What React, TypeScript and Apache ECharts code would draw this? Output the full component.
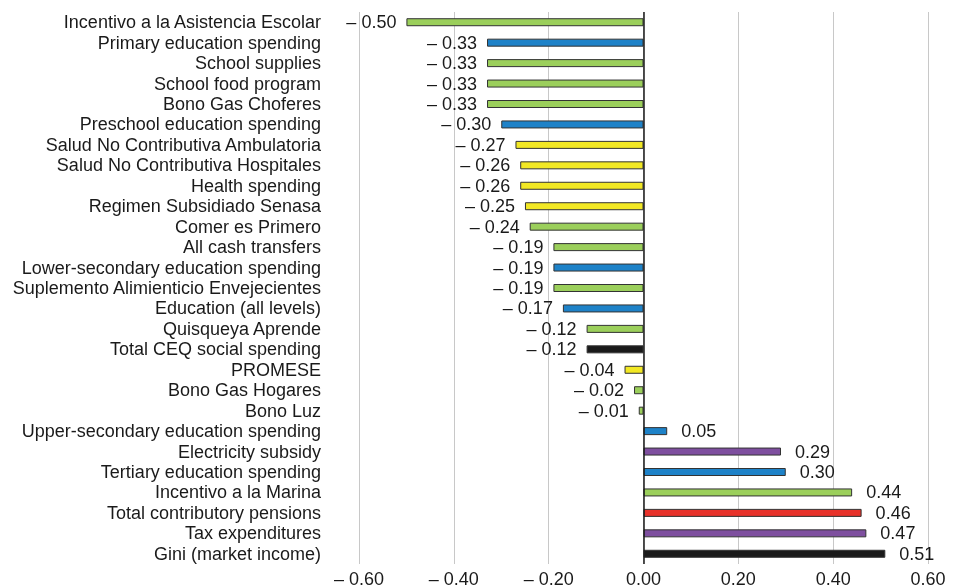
import React, { useEffect, useRef } from "react";
import * as echarts from "echarts";

const categories = [
  "Incentivo a la Asistencia Escolar",
  "Primary education spending",
  "School supplies",
  "School food program",
  "Bono Gas Choferes",
  "Preschool education spending",
  "Salud No Contributiva Ambulatoria",
  "Salud No Contributiva Hospitales",
  "Health spending",
  "Regimen Subsidiado Senasa",
  "Comer es Primero",
  "All cash transfers",
  "Lower-secondary education spending",
  "Suplemento Alimienticio Envejecientes",
  "Education (all levels)",
  "Quisqueya Aprende",
  "Total CEQ social spending",
  "PROMESE",
  "Bono Gas Hogares",
  "Bono Luz",
  "Upper-secondary education spending",
  "Electricity subsidy",
  "Tertiary education spending",
  "Incentivo a la Marina",
  "Total contributory pensions",
  "Tax expenditures",
  "Gini (market income)",
];

const values = [
  -0.5, -0.33, -0.33, -0.33, -0.33, -0.3, -0.27, -0.26, -0.26, -0.25, -0.24,
  -0.19, -0.19, -0.19, -0.17, -0.12, -0.12, -0.04, -0.02, -0.01, 0.05, 0.29,
  0.3, 0.44, 0.46, 0.47, 0.51,
];

// group of each bar: g = green, b = education, y = health, k = totals, p = subsidies, r = pensions
const groups = [
  "g", "b", "g", "g", "g", "b", "y", "y", "y", "y", "g", "g", "b", "g", "b",
  "g", "k", "y", "g", "g", "b", "p", "b", "g", "r", "p", "k",
];

const groupColors: Record<string, string> = {
  g: "#9BCF5B",
  b: "#1E82C8",
  y: "#F2E824",
  k: "#1A1A1A",
  p: "#7E4F9F",
  r: "#E8322A",
};

const fmt = (v: number) => (v < 0 ? "\u2013 " + Math.abs(v).toFixed(2) : v.toFixed(2));

export default function App() {
  const ref = useRef<HTMLDivElement>(null);
  useEffect(() => {
    if (!ref.current) return;
    const chart = echarts.init(ref.current, undefined, { renderer: "svg" });
    const font = "'Liberation Sans', Arial, Helvetica, sans-serif";
    chart.setOption({
      animation: false,
      grid: { left: 359, right: 26, top: 12, bottom: 24, containLabel: false },
      xAxis: {
        type: "value",
        min: -0.6,
        max: 0.6,
        interval: 0.2,
        axisLine: { show: false },
        axisTick: { show: false },
        splitLine: { show: true, lineStyle: { color: "#c8c8c8", width: 1 } },
        axisLabel: {
          formatter: (v: number) => fmt(Math.round(v * 100) / 100),
          color: "#1a1a1a",
          fontSize: 18,
          fontFamily: font,
          margin: 6,
        },
      },
      yAxis: {
        type: "category",
        data: categories,
        inverse: true,
        axisLine: { show: false, onZero: false },
        axisTick: { show: false },
        splitLine: { show: false },
        axisLabel: {
          interval: 0,
          color: "#1a1a1a",
          fontSize: 18,
          fontFamily: font,
          margin: 38,
        },
      },
      series: [
        {
          type: "bar",
          barWidth: 8,
          data: values.map((v, i) => ({
            value: v,
            itemStyle: {
              color: groupColors[groups[i]],
              borderColor: "#333333",
              borderWidth: 1,
            },
            label: {
              show: true,
              position: v < 0 ? "left" : "right",
              distance: v < 0 ? 10 : 14,
              formatter: () => fmt(v),
              color: "#1a1a1a",
              fontSize: 18,
              fontFamily: font,
            },
          })),
          markLine: {
            silent: true,
            symbol: "none",
            label: { show: false },
            lineStyle: { color: "#1a1a1a", width: 1.5, type: "solid" },
            data: [{ xAxis: 0 }],
          },
        },
      ],
    });
    return () => chart.dispose();
  }, []);
  return (
    <div
      ref={ref}
      style={{ position: "fixed", left: 0, top: 0, width: 954, height: 588 }}
    />
  );
}
